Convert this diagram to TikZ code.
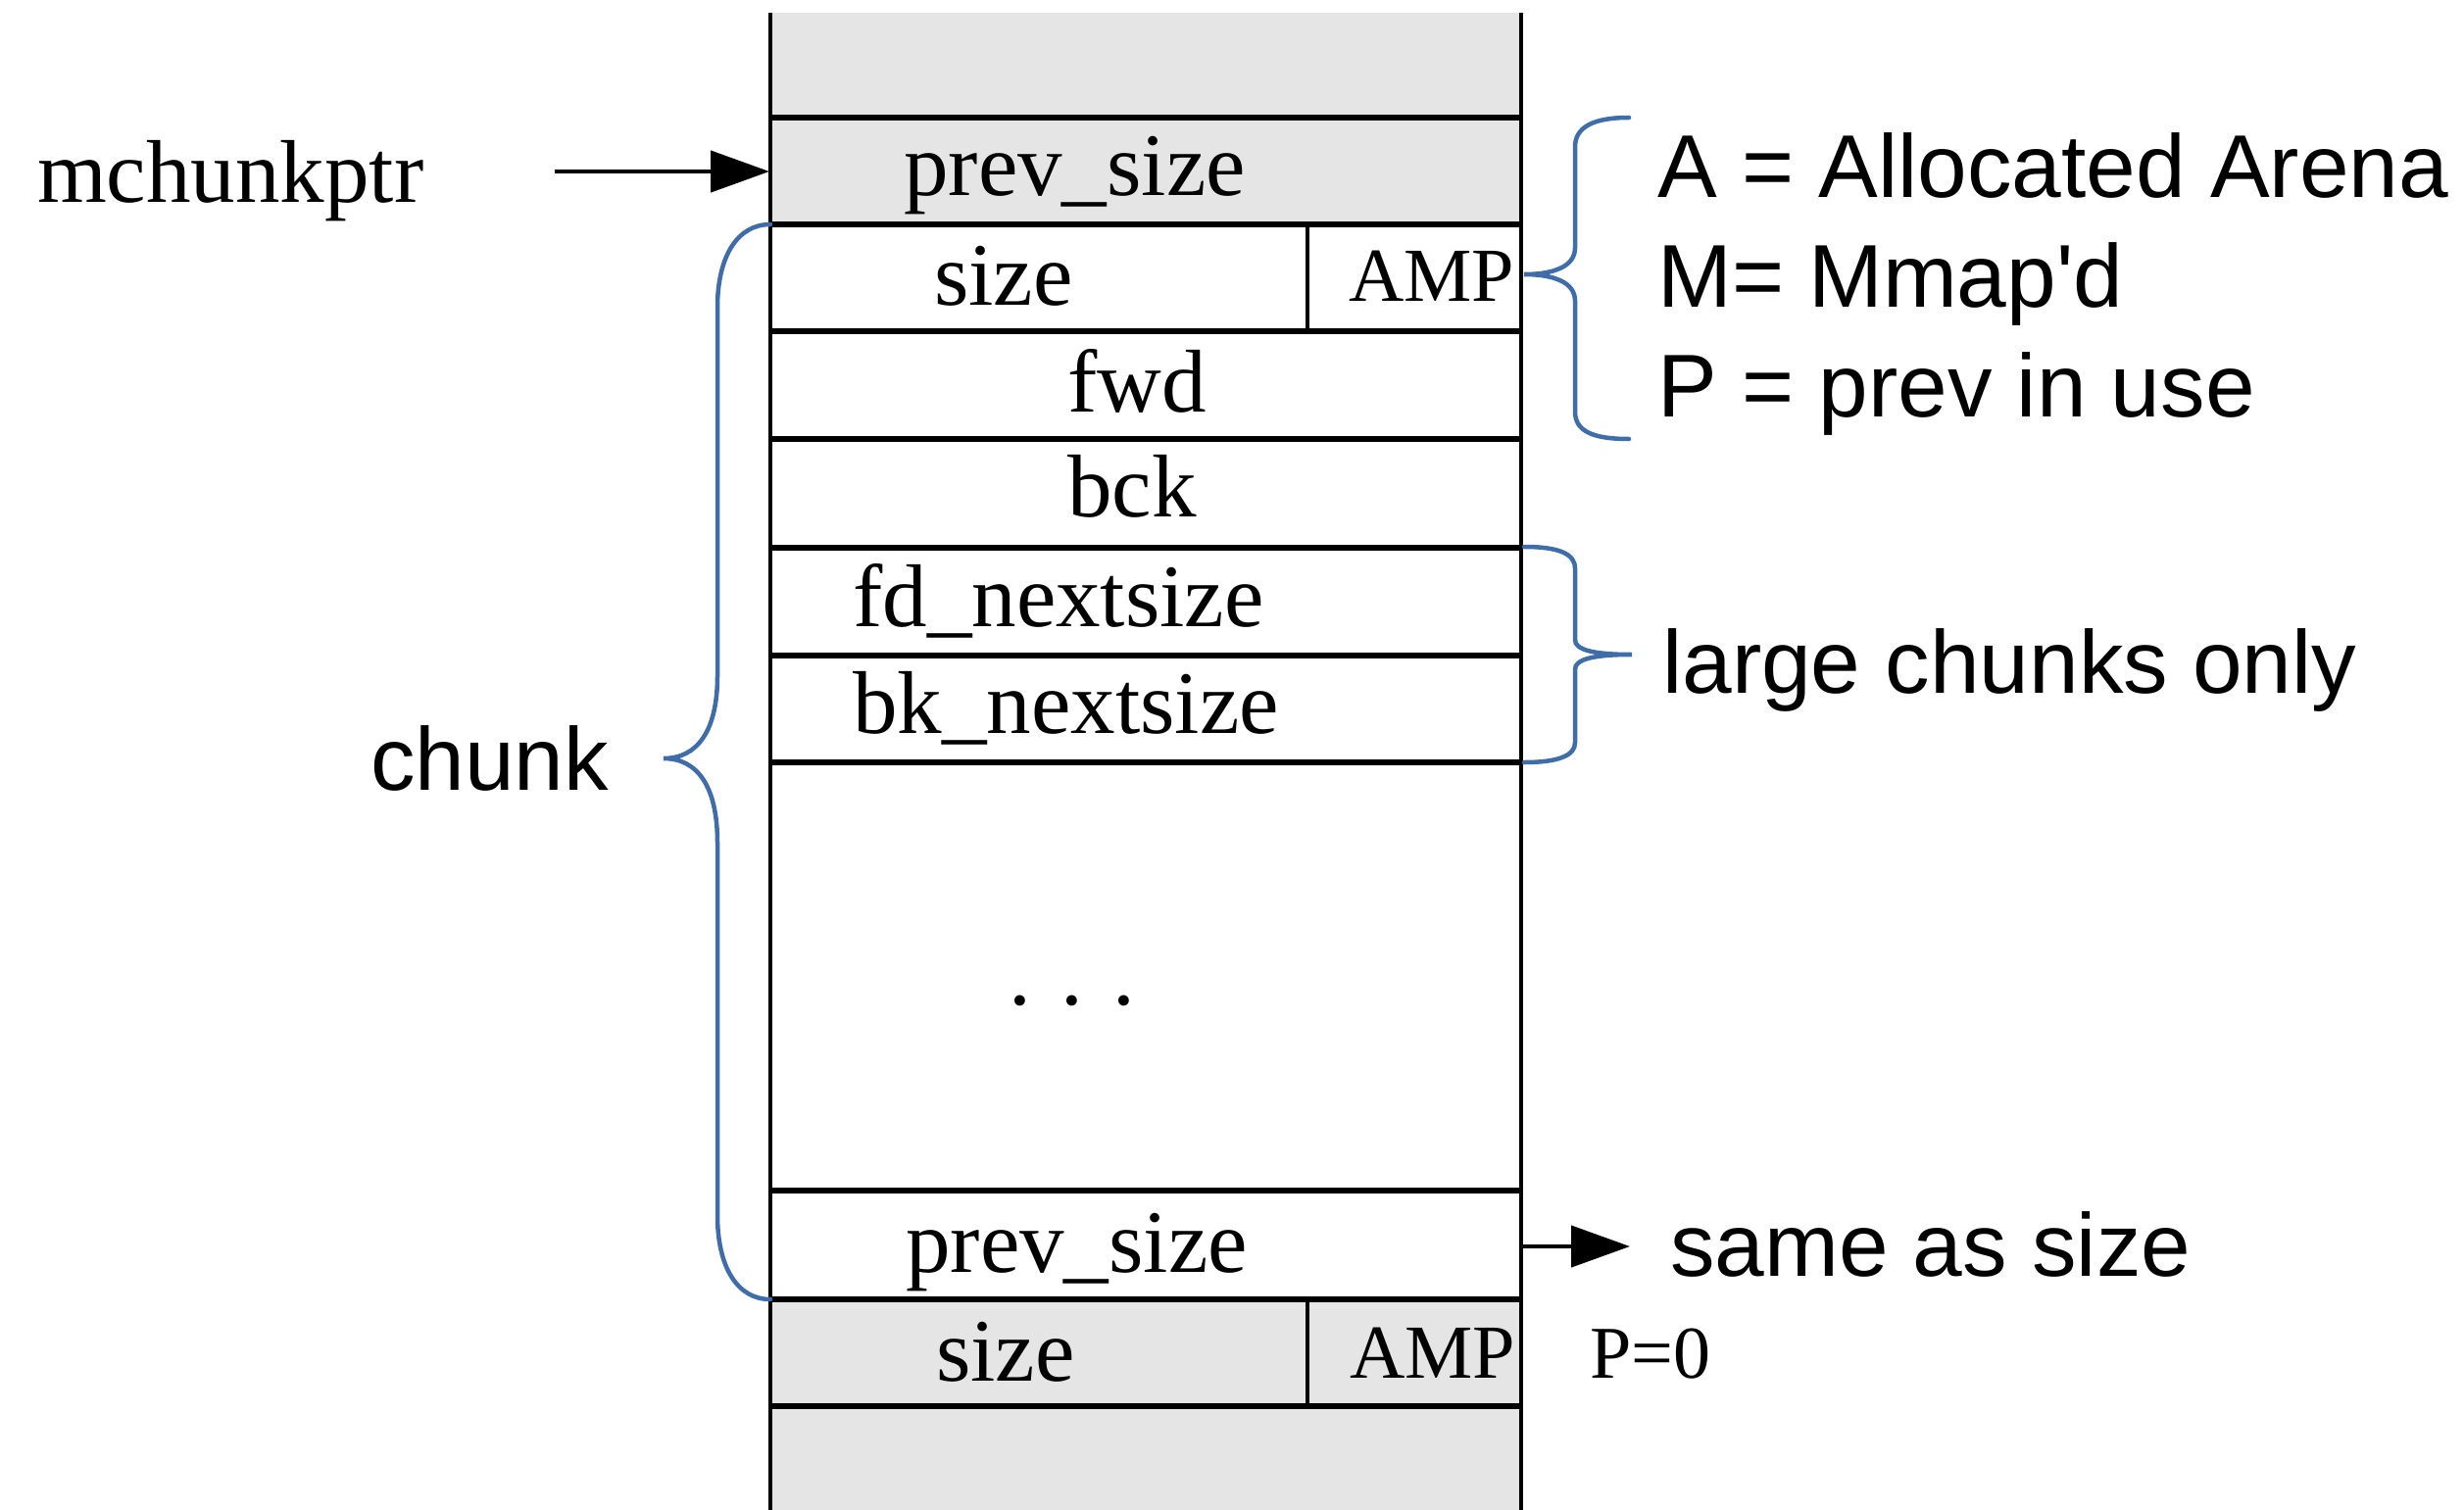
\documentclass[tikz,border=0pt]{standalone}
\usepackage{fontspec}
\setmainfont{Liberation Serif}
\newfontfamily\sansf[Ligatures=ResetAll]{Liberation Sans}
\usetikzlibrary{arrows.meta}
\definecolor{cellgray}{RGB}{229,229,229}
\definecolor{braceblue}{RGB}{62,109,170}
\tikzset{
  serif/.style={inner sep=0pt, anchor=base west, font=\fontsize{91}{100}\selectfont},
  amp/.style={inner sep=0pt, anchor=base west, font=\fontsize{78}{86}\selectfont},
  sanslbl/.style={inner sep=0pt, anchor=base west, font=\sansf\fontsize{91}{100}\selectfont},
  hline/.style={line width=5.5pt},
  vline/.style={line width=4pt},
  bracestyle/.style={draw=braceblue, line width=4.5pt, line cap=round},
  ptrarrow/.style={line width=4.5pt, -{Triangle[length=60pt,width=42pt]}}
}
\begin{document}
\begin{tikzpicture}[x=1pt,y=-1pt]
\useasboundingbox (0,0) rectangle (2514,1541);
% gray fills
\fill[cellgray] (786,13) rectangle (1552,229);
\fill[cellgray] (786,1326) rectangle (1552,1541);
% horizontal lines
\foreach \yy in {120,229,338,448,559,669,778,1215,1326,1435}
  \draw[hline] (786,\yy) -- (1552,\yy);
% vertical lines
\draw[vline] (786,13) -- (786,1541);
\draw[vline] (1552,13) -- (1552,1541);
\draw[vline] (1334,229) -- (1334,338);
\draw[vline] (1334,1326) -- (1334,1435);
% texts in cells
\node[serif] (prevtop) at (922,200) {prev\_size};
\node[serif] (sizetop) at (953,311) {size};
\node[amp] (amptop) at (1376,307) {AMP};
\node[serif] (fwd) at (1089,420) {fwd};
\node[serif] (bck) at (1089,527) {bck};
\node[serif] (fdn) at (870,639) {fd\_nextsize};
\node[serif] (bkn) at (870,748) {bk\_nextsize};
\node[serif, anchor=base] (dots) at (1094,1025) {. . .};
\node[serif] (prevbot) at (924,1298) {prev\_size};
\node[serif] (sizebot) at (955,1409) {size};
\node[amp] (ampbot) at (1377,1406) {AMP};
% side labels
\node[serif] (mchunkptr) at (38,207) {mchunkptr};
\node[amp, font=\fontsize{76}{84}\selectfont] (pzero) at (1622,1406) {P=0};
\node[sanslbl] (chunk) at (378,806) {chunk};
\node[sanslbl] (la) at (1691,202) {A = Allocated Arena};
\node[sanslbl] (lm) at (1691,313) {M= Mmap'd};
\node[sanslbl] (lp) at (1691,425) {P = prev in use};
\node[sanslbl] (large) at (1696,707) {large chunks only};
\node[sanslbl] (same) at (1704,1302) {same as size};
% arrows
\coordinate (ptrstart) at (566,175);
\coordinate (ptrend) at (785,175);
\draw[ptrarrow] (ptrstart) -- (ptrend);
\coordinate (samestart) at (1552,1272);
\coordinate (sameend) at (1663,1272);
\draw[ptrarrow] (samestart) -- (sameend);
% chunk brace
\draw[bracestyle] (786,229) .. controls (752,229) and (732,262) .. (732,314)
  -- (732,690) .. controls (732,745) and (712,774) .. (677,774)
  .. controls (712,774) and (732,803) .. (732,860)
  -- (732,1240) .. controls (732,1293) and (752,1326) .. (786,1326);
% AMP brace
\draw[bracestyle] (1662,120) .. controls (1625,120) and (1607,130) .. (1607,150)
  -- (1607,253) .. controls (1607,272) and (1585,280) .. (1555,280)
  .. controls (1585,280) and (1607,288) .. (1607,307)
  -- (1607,420) .. controls (1607,440) and (1625,448) .. (1662,448);
% large chunks brace
\draw[bracestyle] (1555,558) .. controls (1590,558) and (1607,565) .. (1607,580)
  -- (1607,653) .. controls (1607,663) and (1625,668) .. (1665,668)
  .. controls (1625,668) and (1607,673) .. (1607,683)
  -- (1607,758) .. controls (1607,771) and (1590,778) .. (1555,778);
\end{tikzpicture}
\end{document}
